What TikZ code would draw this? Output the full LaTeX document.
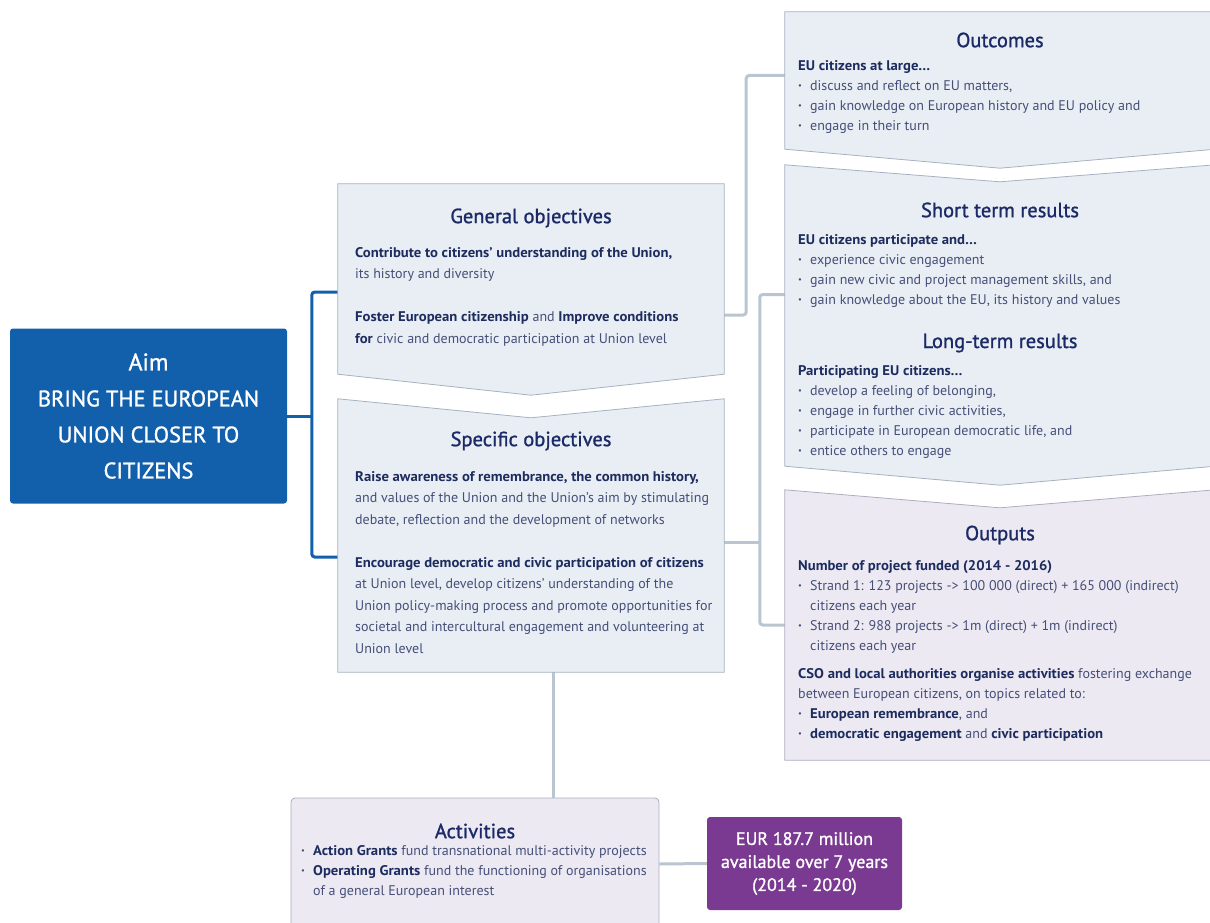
\documentclass[tikz,border=0pt]{standalone}
\usepackage{fontspec}
\setmainfont{PT Sans}[BoldFeatures={FakeStretch=1.05}]
\newfontfamily\headfont{PT Sans}[FakeBold=1.2]
\usetikzlibrary{positioning}

\definecolor{aimblue}{HTML}{1260AB}
\definecolor{panelgray}{HTML}{E9EEF4}
\definecolor{panelline}{HTML}{A4B2C1}
\definecolor{panellila}{HTML}{ECE9F2}
\definecolor{lilaline}{HTML}{ADADC0}
\definecolor{eurpurple}{HTML}{7B3A92}
\definecolor{linkgray}{HTML}{B9C6D1}
\definecolor{titlecol}{HTML}{1B2A66}
\definecolor{boldcol}{HTML}{1D2C5F}
\definecolor{textcol}{HTML}{454F78}

\newcommand{\bul}{\makebox[12pt][l]{\raisebox{0.3ex}{\scalebox{0.6}{\textbullet}}}}
\newcommand{\hi}[1]{\textbf{\color{boldcol}#1}}

\begin{document}
\begin{tikzpicture}[x=1pt,y=-1pt,
  panel/.style={fill=panelgray, draw=panelline, line width=0.8pt},
  lila/.style={fill=panellila, draw=lilaline, line width=0.8pt},
  boxframe/.style 2 args={inner sep=0pt, minimum width=#1, minimum height=#2},
  heading/.style={inner sep=0pt, text=titlecol, font=\headfont\fontsize{20.5}{24}\selectfont},
  leftbody/.style={anchor=north west, inner sep=0pt, align=left, text=textcol, font=\fontsize{14}{21.5}\selectfont},
  rightbody/.style={anchor=north west, inner sep=0pt, align=left, text=textcol, font=\fontsize{14}{20}\selectfont},
  link/.style={draw=linkgray, line width=3pt, rounded corners=3pt},
  bluelink/.style={draw=aimblue, line width=3pt, rounded corners=3pt}]

\useasboundingbox (0,0) rectangle (1210,923);
\clip (0,0) rectangle (1210,923);

% aim
\node (aim) [fill=aimblue, rounded corners=3pt, minimum width=277pt, minimum height=175pt, text=white, align=center, font=\headfont\fontsize{22.5}{36}\selectfont] at (148.5,416) {{\fontsize{24}{36}\selectfont Aim}\\BRING THE EUROPEAN\\UNION CLOSER TO\\CITIZENS};

% frames of the panels
\node (gen) [boxframe={386pt}{190pt}] at (531,279) {};
\node (spec) [boxframe={386pt}{273pt}] at (531,535.5) {};
\node (outc) [boxframe={430pt}{137pt}] at (1000,80.5) {};
\node (short) [boxframe={430pt}{301pt}] at (1000,315.5) {};
\node (outp) [boxframe={430pt}{270pt}] at (1000,625) {};

% activities and funding
\node (act) [lila, rounded corners=4pt, minimum width=368pt, minimum height=132pt] at (475,864) {};
\node (eur) [fill=eurpurple, rounded corners=3pt, minimum width=195pt, minimum height=93pt, text=white, align=center, font=\headfont\fontsize{18}{23}\selectfont] at (804.5,863.5) {EUR 187.7 million\\available over 7 years\\(2014 - 2020)};

% connectors
\draw[bluelink] (aim.east) -- ++(25,0);
\draw[bluelink] ([yshift=-13pt]gen.west) -- ++(-26,0) |- ([yshift=-21.5pt]spec.west);
\draw[link] ([yshift=-36pt]gen.east) -- ++(22,0) |- ([yshift=5pt]outc.west);
\draw[link] ([yshift=21pt]short.west) -- ++(-25,0) |- (outp.west);
\draw[link] ([yshift=-6.5pt]spec.east) -- ++(36,0);
\draw[link] ([xshift=22pt]spec.south) -- ([xshift=78pt]act.north);
\draw[link] (act.east) -- (eur.west);

% panels
\path[panel] (gen.north west) -- (gen.north east) -- (gen.south east) -- ([yshift=-21pt]gen.south) -- (gen.south west) -- cycle;
\path[panel] (spec.north west) -- ([yshift=-19pt]spec.north) -- (spec.north east) -- (spec.south east) -- (spec.south west) -- cycle;
\path[panel] (outc.north west) -- (outc.north east) -- (outc.south east) -- ([yshift=-19pt]outc.south) -- (outc.south west) -- cycle;
\path[panel] (short.north west) -- ([yshift=-17pt]short.north) -- (short.north east) -- (short.south east) -- ([yshift=-19pt]short.south) -- (short.south west) -- cycle;
\path[lila] (outp.north west) -- ([yshift=-18pt]outp.north) -- (outp.north east) -- (outp.south east) -- (outp.south west) -- cycle;

% general objectives
\node (gentitle) [heading] at (531,218) {General objectives};
\node (gentext) [leftbody] at (355,247) {\hi{Contribute to citizens’ understanding of the Union,}\\its history and diversity\\[21.5pt]\hi{Foster European citizenship} and \hi{Improve conditions}\\\hi{for} civic and democratic participation at Union level};

% specific objectives
\node (spectitle) [heading] at (531,441) {Specific objectives};
\node (spectext) [leftbody] at (355,471) {\hi{Raise awareness of remembrance, the common history,}\\and values of the Union and the Union’s aim by stimulating\\debate, reflection and the development of networks\\[21.5pt]\hi{Encourage democratic and civic participation of citizens}\\at Union level, develop citizens’ understanding of the\\Union policy-making process and promote opportunities for\\societal and intercultural engagement and volunteering at\\Union level};

% outcomes
\node (outctitle) [heading] at (1000,40) {Outcomes};
\node (outctext) [rightbody] at (798,60) {\hi{EU citizens at large…}\\\bul discuss and reflect on EU matters,\\\bul gain knowledge on European history and EU policy and\\\bul engage in their turn};

% short and long term results
\node (shorttitle) [heading] at (1000,210) {Short term results};
\node (shorttext) [rightbody] at (798,234) {\hi{EU citizens participate and…}\\\bul experience civic engagement\\\bul gain new civic and project management skills, and\\\bul gain knowledge about the EU, its history and values};
\node (longtitle) [heading] at (1000,343) {Long-term results};
\node (longtext) [rightbody] at (798,365) {\hi{Participating EU citizens…}\\\bul develop a feeling of belonging,\\\bul engage in further civic activities,\\\bul participate in European democratic life, and\\\bul entice others to engage};

% outputs
\node (outptitle) [heading] at (1000,535) {Outputs};
\node (outptext) [rightbody] at (798,560) {\hi{Number of project funded (2014 - 2016)}\\\bul Strand 1: 123 projects -> 100 000 (direct) + 165 000 (indirect)\\\hspace*{12pt}citizens each year\\\bul Strand 2: 988 projects -> 1m (direct) + 1m (indirect)\\\hspace*{12pt}citizens each year\\[8pt]\hi{CSO and local authorities organise activities} fostering exchange\\between European citizens, on topics related to:\\\bul\hi{European remembrance}, and\\\bul\hi{democratic engagement} and \hi{civic participation}};

% activities text
\node (acttitle) [heading] at (475,831) {Activities};
\node (acttext) [rightbody] at (301,845) {\bul\hi{Action Grants} fund transnational multi-activity projects\\\bul\hi{Operating Grants} fund the functioning of organisations\\\hspace*{12pt}of a general European interest};

\end{tikzpicture}
\end{document}
